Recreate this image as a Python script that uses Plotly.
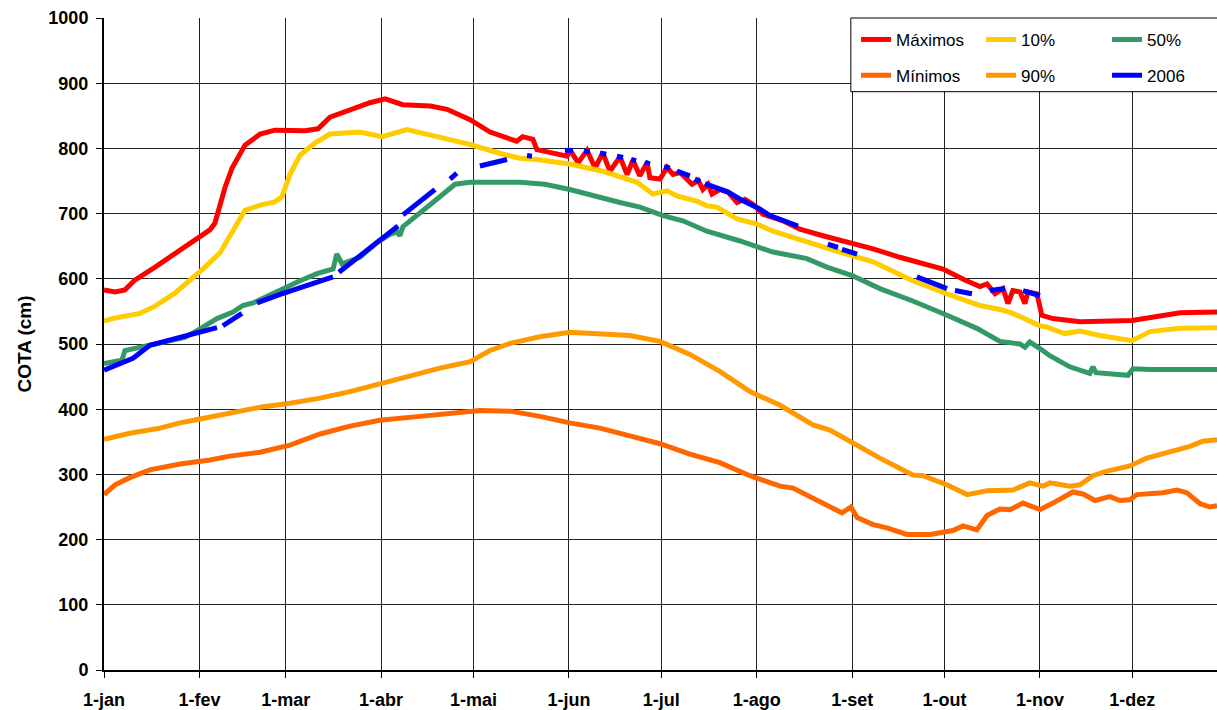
import plotly.graph_objects as go

# ---- axis ticks (day of year at start of each month) ----
month_days = [0, 31, 59, 90, 120, 151, 181, 212, 243, 273, 304, 334]
month_labels = ["1-jan", "1-fev", "1-mar", "1-abr", "1-mai", "1-jun",
                "1-jul", "1-ago", "1-set", "1-out", "1-nov", "1-dez"]
y_ticks = list(range(0, 1001, 100))

# ---- Máximos ----
max_days = [0, 3.6, 6.8, 8.4, 10, 16.6, 23, 28, 31.5, 34.4, 36, 39.3, 41.6, 45.8, 50.7,
            55.5, 65.3, 69.5, 73.4, 80, 86.4, 91.3, 97, 106, 111.4, 118.9, 125.4, 134, 136,
            139.3, 140.6, 150.4, 151.3, 154, 156.9, 159.5, 162, 164.3, 167.6, 169.9, 171.8,
            174, 176.4, 177.3, 180.6, 182.9, 184.8, 187.1, 191, 193, 194.5, 196.2, 197.5,
            200, 202.7, 205.6, 208.2, 211.4, 214, 220.5, 226, 233.5, 242.3, 249.8, 258.5,
            272.5, 279.6, 284.5, 286.8, 289.4, 292, 293.6, 295.2, 297.5, 299.1, 300.1, 303,
            304.6, 308.2, 317, 333.9, 343, 349.5, 361.5]
max_vals = [583, 580, 583, 590, 598, 618, 638, 655, 665, 675, 685, 740, 770, 805, 822,
            828, 827, 830, 848, 860, 870, 876, 867, 865, 860, 844, 825, 811, 818,
            814, 798, 788, 798, 778, 797, 770, 793, 765, 787, 760, 782,
            758, 778, 755, 753, 771, 760, 763, 745, 751, 737, 745, 730,
            737, 733, 717, 722, 712, 699, 689, 676, 666, 656, 646, 633,
            615, 598, 588, 592, 577, 585, 562, 582, 580, 562, 580, 577,
            544, 539, 534, 536, 542, 548, 549]

# ---- 10% ----
p10_days = [0, 3.6, 11.7, 16.6, 23, 28, 32.8, 37.7, 41.6, 45.8, 50.7, 55.5, 57.8, 60.4,
            63.7, 68.5, 73.4, 83.1, 90.3, 98.4, 108.2, 118.9, 129.6, 135.1, 140.6, 151.3,
            162, 173.1, 178.3, 182.9, 186.1, 192.6, 195.8, 199.1, 205.6, 212.1, 217.3,
            228.3, 239, 249.8, 262.7, 273.8, 284.5, 291, 295.2, 304, 306.3, 312, 317,
            323.5, 333.9, 339.7, 349.5, 361.5]
p10_vals = [535, 540, 547, 558, 578, 598, 618, 640, 670, 705, 713, 718, 726, 760,
            790, 808, 822, 825, 818, 829, 818, 806, 791, 785, 783, 776,
            765, 748, 730, 735, 727, 719, 712, 710, 692, 684, 673,
            656, 641, 626, 597, 577, 559, 553, 547, 528, 526, 516, 520,
            513, 505, 519, 524, 525]

# ---- 50% ----
p50_days = [0, 3.6, 5.8, 6.8, 11.7, 18.2, 26.3, 31.5, 36.7, 41.9, 45.1, 48.4, 58.1, 63.7,
            69.2, 74.4, 75.6, 77.3, 83.1, 88.7, 92.9, 95.2, 96.1, 97.1, 108.1, 114, 118.9,
            135.1, 143.2, 151.3, 167.6, 174.1, 181.6, 188, 195.8, 206.6, 217.3, 228.3,
            234.8, 243, 252, 262.7, 273.8, 283.5, 291, 297.5, 299.1, 300.7, 304, 307.2,
            313.7, 320.2, 321.2, 322.2, 332.6, 334.2, 339.7, 361.5]
p50_vals = [470, 472, 475, 490, 495, 500, 510, 524, 539, 549, 559, 563, 585, 597,
            608, 615, 638, 623, 633, 656, 668, 672, 666, 680, 722, 745, 748,
            748, 745, 737, 717, 710, 697, 689, 673, 658, 641, 631,
            618, 605, 585, 566, 544, 524, 504, 500, 495, 503, 493, 482,
            465, 455, 465, 456, 452, 462, 461, 461]

# ---- Mínimos ----
min_days = [0, 3.6, 8.4, 14.9, 24.7, 34.4, 40.9, 50.7, 60.4, 70.2, 79.9, 89.6, 102.6,
            112.4, 122.1, 131.9, 141.6, 151.3, 161.1, 170.8, 180.6, 190.3, 200, 209.8,
            219.6, 223.8, 230.3, 236.8, 239.7, 242.6, 244.6, 249.8, 254.3, 260.8, 268.3,
            275.7, 279, 283.5, 286.8, 291, 294.3, 298.5, 304, 308.2, 311.5, 314.7, 318,
            321.9, 326.7, 330, 333.2, 335.5, 343.9, 348.5, 351.7, 356, 359.2, 361.5]
min_vals = [269, 284, 295, 307, 316, 322, 328, 334, 345, 362, 374, 383, 389,
            394, 398, 397, 389, 379, 371, 359, 347, 331, 318, 298,
            282, 279, 264, 249, 241, 250, 234, 223, 218, 208, 208,
            214, 221, 215, 237, 247, 246, 256, 246, 256, 264, 273, 270,
            260, 266, 260, 261, 269, 272, 276, 272, 255, 250, 252]

# ---- 90% ----
p90_days = [0, 8.4, 18.2, 24.7, 31.2, 40.9, 50.7, 60.4, 70.2, 79.9, 89.6, 96.1, 102.6,
            109.1, 118.9, 125.4, 131.9, 141.6, 151.3, 161.1, 170.8, 180.6, 190.3, 200,
            209.8, 219.6, 230.3, 235.8, 243.3, 252, 262.7, 266, 273.8, 280.3, 286.8,
            295.2, 300.7, 305, 307.2, 313.7, 317, 321.2, 325.8, 333.2, 338.7, 347.2,
            352.7, 356.9, 361.5]
p90_vals = [354, 363, 371, 379, 385, 394, 403, 409, 417, 427, 440, 447, 455,
            463, 473, 490, 501, 511, 518, 516, 513, 504, 484, 458,
            427, 406, 376, 368, 348, 325, 299, 298, 284, 269, 275,
            276, 287, 282, 287, 282, 284, 298, 305, 313, 325, 337,
            343, 351, 353]

# ---- 2006 (gaps = missing readings) ----
y2006_days = [0, 9.4, 14.9, 23.4, 31.2, 36.7, 37.6, 38.6, 44.8, 47, 49.7, 57.2, 74.4, 75.3,
              76.3, 88.7, 95.5, 96.3, 97.1, 107.5, 110, 112.4, 114.6, 118, 122.1, 130.9,
              134, 137.4, 139, 145, 149.7, 152.3, 154.5, 155.9, 157.8, 159.5, 161.1, 163.1,
              165, 166.6, 168.6, 170, 171.2, 172.8, 174, 175.7, 177.3, 179, 181.9, 183.8,
              185, 186.1, 190.3, 191.1, 191.9, 193.6, 194.4, 195.2, 200, 202.7, 206.6,
              211.4, 213, 216.3, 220.5, 225.4, 230, 235.1, 238.4, 239, 239.7, 244.6, 255,
              264, 273.8, 275, 276.4, 281.9, 285, 287.8, 292.6, 295, 298.5, 304]
y2006_vals = [460, 478, 498, 508, 517, 525, None, 528, 547, None, 563, 576, 603, None,
              610, 656, 681, None, 698, 737, None, 753, 762, None, 773, 783,
              None, 789, 788, None, 797, 797, None, 796, 795, None, 793, 791,
              None, 788, 786, None, 783, 781, None, 779, 776, None, 772, 770,
              None, 765, 758, None, 753, 749, None, 746, 737, 733, 722,
              712, 707, 697, 689, 681, None, 653, 648, None, 645, 638, None,
              603, 585, None, 582, 577, None, 582, 585, None, 582, 574]

FONT = "Liberation Sans, Arial, sans-serif"
LW = 5

series = [
    ("Máximos", max_days, max_vals, "#FF0000", "legend"),
    ("10%", p10_days, p10_vals, "#FFCC00", "legend2"),
    ("50%", p50_days, p50_vals, "#339966", "legend3"),
    ("Mínimos", min_days, min_vals, "#FF6600", "legend4"),
    ("90%", p90_days, p90_vals, "#FF9900", "legend5"),
    ("2006", y2006_days, y2006_vals, "#0000FF", "legend6"),
]

fig = go.Figure()
for name, xs, ys, col, leg in series:
    fig.add_trace(go.Scatter(x=xs, y=ys, name=name, mode="lines", connectgaps=False,
                             line=dict(color=col, width=LW), legend=leg))

axis_common = dict(showgrid=True, gridcolor="#222222", gridwidth=1,
                   showline=True, linecolor="black", linewidth=2,
                   ticks="outside", ticklen=6, tickcolor="black", tickwidth=1,
                   zeroline=False,
                   tickfont=dict(family=FONT, size=18, color="black", weight="bold"))

fig.update_xaxes(range=[0, 361.5], tickvals=month_days, ticktext=month_labels,
                 ticklabelstandoff=6, **axis_common)
fig.update_yaxes(range=[0, 1000], tickvals=y_ticks, ticklabelstandoff=4,
                 title=dict(text="COTA (cm)", standoff=12,
                            font=dict(family=FONT, size=19, color="black", weight="bold")),
                 **axis_common)

def leg(x, y):
    return dict(orientation="v", xanchor="left", x=x, yanchor="middle", y=y,
                bgcolor="rgba(0,0,0,0)", borderwidth=0,
                font=dict(family=FONT, size=17, color="black"),
                itemclick=False, itemdoubleclick=False)

col_x = [0.6757, 0.788, 0.9012]
row_y = [0.9664, 0.9115]

fig.update_layout(
    width=1217, height=710,
    margin=dict(l=104, r=0, t=18, b=37),
    plot_bgcolor="white", paper_bgcolor="white",
    font=dict(family=FONT, color="black"),
    showlegend=True,
    legend=leg(col_x[0], row_y[0]),
    legend2=leg(col_x[1], row_y[0]),
    legend3=leg(col_x[2], row_y[0]),
    legend4=leg(col_x[0], row_y[1]),
    legend5=leg(col_x[1], row_y[1]),
    legend6=leg(col_x[2], row_y[1]),
    shapes=[dict(type="rect", xref="paper", yref="paper", x0=0.671, x1=1.05,
                 y0=0.887, y1=1.0, line=dict(color="black", width=1),
                 fillcolor="white", layer="above")],
)

fig.write_html("out.html", config={"displayModeBar": False},
               post_script="document.body.style.margin='0px';document.body.style.overflow='hidden';")
